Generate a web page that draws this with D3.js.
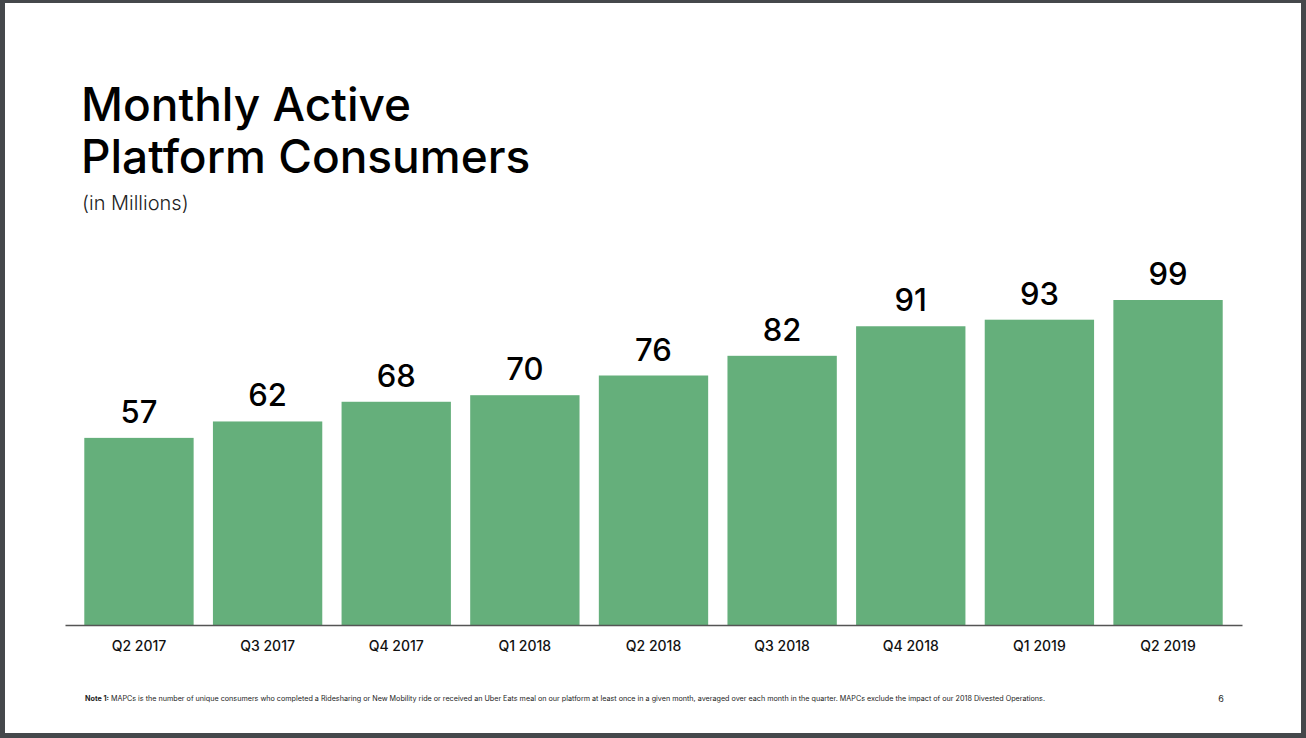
<!DOCTYPE html>
<html>
<head>
<meta charset="utf-8">
<script src="https://cdn.jsdelivr.net/npm/d3@7"></script>
<style>
  html, body { margin: 0; padding: 0; background: #45484b; }
  svg { display: block; font-family: Inter, "Open Sans", sans-serif; }
</style>
</head>
<body>
<svg class="container"></svg>
<script>
const quarters = ["Q2 2017", "Q3 2017", "Q4 2017", "Q1 2018", "Q2 2018", "Q3 2018", "Q4 2018", "Q1 2019", "Q2 2019"];
const mapcs = [57, 62, 68, 70, 76, 82, 91, 93, 99];
const titleLines = ["Monthly Active", "Platform Consumers"];
const subtitle = "(in Millions)";
const noteLabel = "Note 1:";
const noteText = " MAPCs is the number of unique consumers who completed a Ridesharing or New Mobility ride or received an Uber Eats meal on our platform at least once in a given month, averaged over each month in the quarter. MAPCs exclude the impact of our 2018 Divested Operations.";
const pageNumber = "6";

const width = 1306;
const height = 738;
const margin = { left: 65, right: 64, baseline: 625 };

const svg = d3.select(".container").attr("width", width).attr("height", height);

// slide frame
svg.append("rect").attr("width", width).attr("height", height).attr("fill", "#45484b");
svg.append("rect").attr("x", 5).attr("y", 3).attr("width", 1296).attr("height", 730).attr("fill", "#fff");

// title block
svg.append("g")
  .selectAll("text")
  .data(titleLines)
  .join("text")
  .attr("x", 81)
  .attr("y", (d, i) => 121 + i * 52)
  .style("font-size", "46px")
  .style("font-weight", 500)
  .attr("fill", "#000")
  .text(d => d);

svg.append("text")
  .attr("x", 82)
  .attr("y", 210)
  .style("font-size", "20px")
  .style("font-weight", 300)
  .attr("fill", "#222")
  .text(subtitle);

// scales
const x = d3.scaleBand()
  .domain(quarters)
  .range([margin.left, width - margin.right])
  .padding(0.15);

const y = d3.scaleLinear()
  .domain([0, 99])
  .range([margin.baseline, 300]);

const data = quarters.map((q, i) => ({ q, v: mapcs[i] }));

svg.append("g")
  .selectAll("rect")
  .data(data)
  .join("rect")
  .attr("x", d => x(d.q))
  .attr("y", d => y(d.v))
  .attr("width", x.bandwidth())
  .attr("height", d => y(0) - y(d.v))
  .attr("fill", "#65af7b");

// value labels
svg.append("g")
  .selectAll("text")
  .data(data)
  .join("text")
  .attr("x", d => x(d.q) + x.bandwidth() / 2)
  .attr("y", d => y(d.v) - 15)
  .attr("text-anchor", "middle")
  .style("font-size", "31px")
  .style("font-weight", 500)
  .attr("fill", "#000")
  .text(d => d.v);

// x-axis
const axis = svg.append("g")
  .attr("transform", `translate(0,${margin.baseline})`)
  .call(d3.axisBottom(x).tickSize(0).tickPadding(16));

axis.select(".domain").attr("stroke", "#555").attr("stroke-width", 1.5);
axis.selectAll("text")
  .style("font-family", "Inter, sans-serif")
  .style("font-size", "14px")
  .style("font-weight", 500)
  .attr("fill", "#111");

// footnote
const note = svg.append("text")
  .attr("x", 85)
  .attr("y", 701)
  .style("font-size", "7px")
  .attr("fill", "#222");
note.append("tspan").style("font-weight", 700).text(noteLabel);
note.append("tspan").text(noteText);
note.attr("textLength", 960).attr("lengthAdjust", "spacingAndGlyphs");

svg.append("text")
  .attr("x", 1221)
  .attr("y", 702)
  .attr("text-anchor", "middle")
  .style("font-size", "9px")
  .attr("fill", "#222")
  .text(pageNumber);
</script>
</body>
</html>
